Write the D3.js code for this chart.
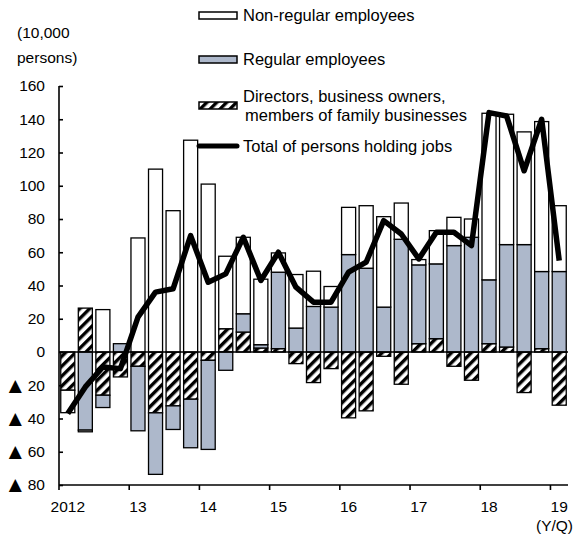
<!DOCTYPE html>
<html>
<head>
<meta charset="utf-8">
<script src="https://cdn.jsdelivr.net/npm/d3@7"></script>
<style>
  body { margin: 0; background: #fff; }
  text { font-family: 'Liberation Sans', Arial, sans-serif; fill: #000; }
  .narrow { font-family: 'Liberation Sans Narrow', 'Arial Narrow', 'Liberation Sans', sans-serif; }
</style>
</head>
<body>
<svg id="viz"></svg>
<script>
const quarters = [
  '2012Q1', '2012Q2', '2012Q3', '2012Q4',
  '2013Q1', '2013Q2', '2013Q3', '2013Q4',
  '2014Q1', '2014Q2', '2014Q3', '2014Q4',
  '2015Q1', '2015Q2', '2015Q3', '2015Q4',
  '2016Q1', '2016Q2', '2016Q3', '2016Q4',
  '2017Q1', '2017Q2', '2017Q3', '2017Q4',
  '2018Q1', '2018Q2', '2018Q3', '2018Q4',
  '2019Q1',
];
// changes from a year earlier, 10,000 persons
const nonRegular = [
  -13.5, -1, 25.5, 0, 68.6, 110, 85, 127.4, 101, 43.6, 46, 39.4, 11.6, 32.2,
  21.2, 12.4, 28.4, 37.6, 54.4, 21.8, 3.2, 20, 17, 11, 100.2, 78.4, 67.8, 90.2,
  39.6,
];
const regular = [
  0, -47, -7.4, 5, -38.8, -37, -14.2, -29.2, -53.6, -11, 11, 2, 46, 14.4, 27.4,
  27, 58.6, 50.4, 27, 67.8, 47.4, 45, 64, 69, 38.4, 61.6, 64.6, 46.4, 48.4,
];
const directors = [
  -23, 26.4, -26, -15, -8.6, -36.6, -32.4, -28.4, -5, 14, 12, 2.4, 2, -7,
  -18.4, -10, -39.6, -35.4, -2.6, -19.4, 5, 8, -8.6, -17, 5, 3, -24.4, 2, -32,
];
const total = [
  -37, -21, -9, -10, 21, 36, 38, 70, 42, 47, 69, 43, 60, 39, 30, 30, 48, 54,
  79, 71, 56, 72, 72, 64, 144, 142, 109, 140, 55,
];
const yearLabels = ['2012', '13', '14', '15', '16', '17', '18', '19'];
const yTicks = [160, 140, 120, 100, 80, 60, 40, 20, 0, -20, -40, -60, -80];

const width = 576;
const height = 537;
const plot = { left: 59, right: 568, top: 86, bottom: 485 };
const regularColor = '#adb8cb';

const svg = d3.select('#viz').attr('width', width).attr('height', height);

// hatch for directors
svg
  .append('defs')
  .append('pattern')
  .attr('id', 'hatch')
  .attr('patternUnits', 'userSpaceOnUse')
  .attr('width', 7)
  .attr('height', 7)
  .attr('patternTransform', 'rotate(45)')
  .call((p) => {
    p.append('rect').attr('width', 7).attr('height', 7).attr('fill', '#fff');
    p.append('rect').attr('width', 3.4).attr('height', 7).attr('fill', '#000');
  });

const table = quarters.map((q, i) => ({
  q: q,
  directors: directors[i],
  regular: regular[i],
  nonRegular: nonRegular[i],
}));

const x = d3
  .scaleBand()
  .domain(quarters)
  .range([plot.left, plot.right])
  .paddingInner(0.2)
  .paddingOuter(0.1);

const y = d3
  .scaleLinear()
  .domain([-80, 160])
  .range([plot.bottom, plot.top]);

const stack = d3
  .stack()
  .keys(['directors', 'regular', 'nonRegular'])
  .offset(d3.stackOffsetDiverging);

const fills = {
  directors: 'url(#hatch)',
  regular: regularColor,
  nonRegular: '#fff',
};

//Draw bars
svg
  .append('g')
  .selectAll('g')
  .data(stack(table))
  .join('g')
  .attr('fill', (s) => fills[s.key])
  .selectAll('rect')
  .data((s) => s.filter((d) => d[1] !== d[0]))
  .join('rect')
  .attr('x', (d) => x(d.data.q))
  .attr('width', x.bandwidth())
  .attr('y', (d) => y(Math.max(d[0], d[1])))
  .attr('height', (d) => Math.abs(y(d[0]) - y(d[1])))
  .attr('stroke', '#000')
  .attr('stroke-width', 1.3);

//Zero line
svg
  .append('line')
  .attr('x1', plot.left)
  .attr('x2', plot.right)
  .attr('y1', y(0))
  .attr('y2', y(0))
  .attr('stroke', '#000')
  .attr('stroke-width', 1.5);

//Total line
svg
  .append('path')
  .datum(total)
  .attr('fill', 'none')
  .attr('stroke', '#000')
  .attr('stroke-width', 5.5)
  .attr('stroke-linejoin', 'round')
  .attr('d', d3.line()
    .x((d, i) => x(quarters[i]) + x.bandwidth() / 2)
    .y((d) => y(d)));

//Y axis
const yAxis = svg
  .append('g')
  .attr('transform', 'translate(' + plot.left + ',0)')
  .call(d3.axisRight(y).tickValues(yTicks).tickSize(4).tickFormat(''));
yAxis.select('.domain').attr('stroke', '#000').attr('stroke-width', 1.6).attr('d', 'M0,' + plot.top + 'V' + plot.bottom);
yAxis.selectAll('.tick line').attr('stroke', '#000').attr('stroke-width', 1.6);

const yLabels = svg
  .append('g')
  .selectAll('text')
  .data(yTicks)
  .join('text')
  .attr('x', 45)
  .attr('y', (d) => y(d))
  .attr('dy', '0.35em')
  .attr('text-anchor', 'end')
  .attr('font-size', 15.5);

// negatives are written with a black triangle
yLabels
  .filter((d) => d < 0)
  .append('tspan')
  .attr('font-family', 'DejaVu Sans')
  .attr('font-size', 17)
  .text('\u25B2');
yLabels
  .append('tspan')
  .attr('dx', (d) => (d < 0 ? 6 : 0))
  .text((d) => Math.abs(d));

//X axis with ticks at year boundaries
const yearStarts = quarters.filter((q) => q.endsWith('Q1'));
const step = x.step();
const xAxis = svg.append('g');
xAxis
  .append('line')
  .attr('x1', plot.left)
  .attr('x2', plot.right)
  .attr('y1', plot.bottom)
  .attr('y2', plot.bottom)
  .attr('stroke', '#000')
  .attr('stroke-width', 1.6);
xAxis
  .selectAll('.yt')
  .data(yearStarts)
  .join('line')
  .attr('class', 'yt')
  .attr('x1', (q) => x(q) - step * 0.1)
  .attr('x2', (q) => x(q) - step * 0.1)
  .attr('y1', plot.bottom)
  .attr('y2', plot.bottom + 5)
  .attr('stroke', '#000')
  .attr('stroke-width', 1.6);
xAxis
  .selectAll('text')
  .data(yearStarts)
  .join('text')
  .attr('x', (q) => x(q) + x.bandwidth() / 2)
  .attr('y', plot.bottom + 27)
  .attr('text-anchor', 'middle')
  .attr('font-size', 15.5)
  .text((q, i) => yearLabels[i]);

svg
  .append('text')
  .attr('x', 573)
  .attr('y', 531)
  .attr('text-anchor', 'end')
  .attr('font-size', 15.5)
  .text('(Y/Q)');

//Unit label
svg.append('text').attr('x', 17).attr('y', 38).attr('font-size', 15.5).text('(10,000');
svg.append('text').attr('x', 17).attr('y', 63).attr('font-size', 15.5).text('persons)');

//Legend
const legend = svg.append('g');
const lx = 199;
const lw = 38;
const tx = 243;

legend.append('rect').attr('x', lx).attr('y', 12).attr('width', lw).attr('height', 7)
  .attr('fill', '#fff').attr('stroke', '#000').attr('stroke-width', 1.5);
legend.append('text').attr('class', 'narrow').attr('x', tx).attr('y', 21).attr('font-size', 16.5)
  .text('Non-regular employees');

legend.append('rect').attr('x', lx).attr('y', 56).attr('width', lw).attr('height', 7)
  .attr('fill', regularColor).attr('stroke', '#000').attr('stroke-width', 1.5);
legend.append('text').attr('class', 'narrow').attr('x', tx).attr('y', 65).attr('font-size', 16.5)
  .text('Regular employees');

legend.append('rect').attr('x', lx).attr('y', 102).attr('width', lw).attr('height', 7)
  .attr('fill', 'url(#hatch)').attr('stroke', '#000').attr('stroke-width', 1.5);
legend.append('text').attr('class', 'narrow').attr('x', tx).attr('y', 102).attr('font-size', 16.5)
  .text('Directors, business owners,');
legend.append('text').attr('class', 'narrow').attr('x', tx + 2).attr('y', 121).attr('font-size', 16.5)
  .text('members of family businesses');

legend.append('line').attr('x1', lx).attr('x2', lx + lw).attr('y1', 146).attr('y2', 146)
  .attr('stroke', '#000').attr('stroke-width', 5).attr('stroke-linecap', 'round');
legend.append('text').attr('class', 'narrow').attr('x', tx).attr('y', 152).attr('font-size', 16.5)
  .text('Total of persons holding jobs');
</script>
</body>
</html>
